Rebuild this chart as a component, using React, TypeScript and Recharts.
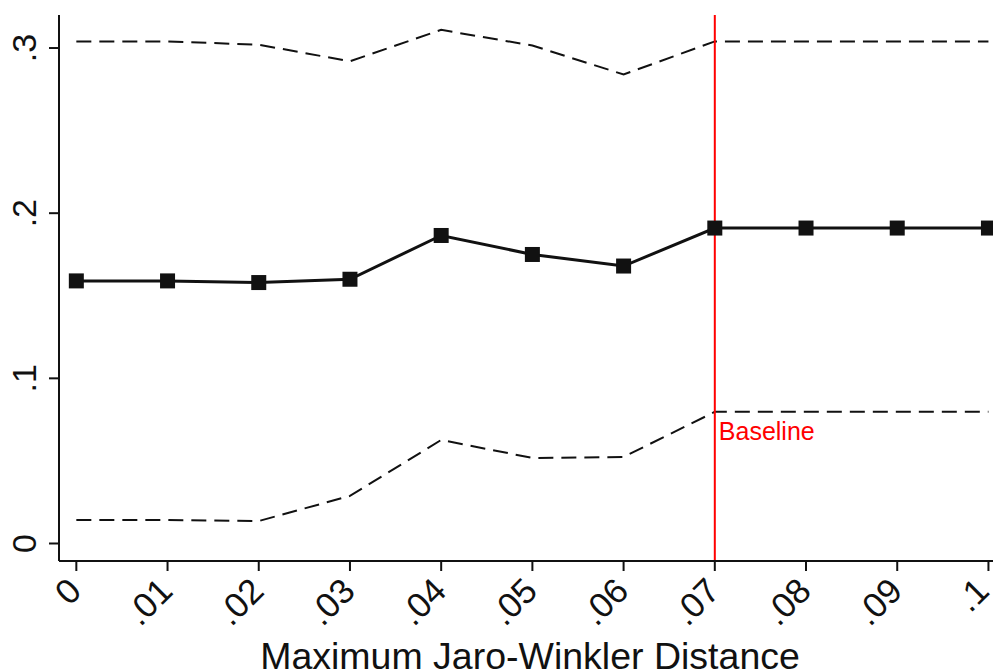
import { LineChart, Line, XAxis, YAxis, ReferenceLine } from 'recharts'

const xValues = [0, 0.01, 0.02, 0.03, 0.04, 0.05, 0.06, 0.07, 0.08, 0.09, 0.1]
const xTickLabels = ['0', '.01', '.02', '.03', '.04', '.05', '.06', '.07', '.08', '.09', '.1']
const yTicks = [0, 0.1, 0.2, 0.3]
const yTickLabels = ['0', '.1', '.2', '.3']

const estimate = [0.159, 0.159, 0.158, 0.16, 0.1865, 0.175, 0.168, 0.191, 0.191, 0.191, 0.191]
const upperCI = [0.304, 0.304, 0.302, 0.292, 0.311, 0.3015, 0.284, 0.304, 0.304, 0.304, 0.304]
const lowerCI = [0.0142, 0.0142, 0.0136, 0.0288, 0.0627, 0.0518, 0.0524, 0.0797, 0.0797, 0.0797, 0.0797]

const baselineX = 0.07

const data = xValues.map((x, i) => ({ x, est: estimate[i], hi: upperCI[i], lo: lowerCI[i] }))

const FONT = "'Liberation Sans', Arial, Helvetica, sans-serif"
const INK = '#111'

const SquareDot = (p: any) => {
  if (p.cx == null || p.cy == null) return null
  return <rect key={p.index} x={p.cx - 7.5} y={p.cy - 7.5} width={15} height={15} fill={INK} />
}

const XTick = ({ x, y, payload }: any) => {
  const i = xValues.indexOf(payload.value)
  return (
    <g transform={`translate(${x + 7},${y + 20}) rotate(-45)`}>
      <text textAnchor="end" fontSize={35} fontFamily={FONT} fill={INK}>{xTickLabels[i]}</text>
    </g>
  )
}

const YTick = ({ x, y, payload }: any) => {
  const i = yTicks.indexOf(payload.value)
  return (
    <g transform={`translate(${x - 11},${y}) rotate(-90)`}>
      <text textAnchor="middle" fontSize={34} fontFamily={FONT} fill={INK}>{yTickLabels[i]}</text>
    </g>
  )
}

const BaselineLabel = ({ viewBox }: any) => (
  <text x={viewBox.x + 4} y={viewBox.y + 425} fontSize={25} fontFamily={FONT} fill="#ff0000">Baseline</text>
)

export default function App() {
  return (
    <div style={{ position: 'absolute', left: 0, top: 0, background: '#fff' }}>
      <LineChart width={994} height={671} data={data} margin={{ top: 15, right: 1, left: 8, bottom: 0 }}>
        <XAxis
          dataKey="x"
          type="number"
          domain={[-0.0019, 0.1005]}
          ticks={xValues}
          allowDataOverflow
          height={110}
          tickSize={10}
          tick={<XTick />}
          axisLine={{ stroke: INK, strokeWidth: 2 }}
          tickLine={{ stroke: INK, strokeWidth: 2 }}
          label={{ value: 'Maximum Jaro-Winkler Distance', position: 'insideBottom', offset: 2, fontSize: 37.5, fontFamily: FONT, fill: INK, dx: 4 }}
        />
        <YAxis
          type="number"
          domain={[-0.0106, 0.32]}
          ticks={yTicks}
          allowDataOverflow
          width={51}
          tickSize={10}
          tick={<YTick />}
          axisLine={{ stroke: INK, strokeWidth: 2 }}
          tickLine={{ stroke: INK, strokeWidth: 2 }}
        />
        <Line dataKey="hi" stroke={INK} strokeWidth={2} strokeDasharray="15 8" dot={false} isAnimationActive={false} type="linear" />
        <Line dataKey="lo" stroke={INK} strokeWidth={2} strokeDasharray="15 8" dot={false} isAnimationActive={false} type="linear" />
        <Line dataKey="est" stroke={INK} strokeWidth={3} dot={<SquareDot />} isAnimationActive={false} type="linear" />
        <ReferenceLine x={baselineX} stroke="#ff0000" strokeWidth={2} label={<BaselineLabel />} />
      </LineChart>
    </div>
  )
}
